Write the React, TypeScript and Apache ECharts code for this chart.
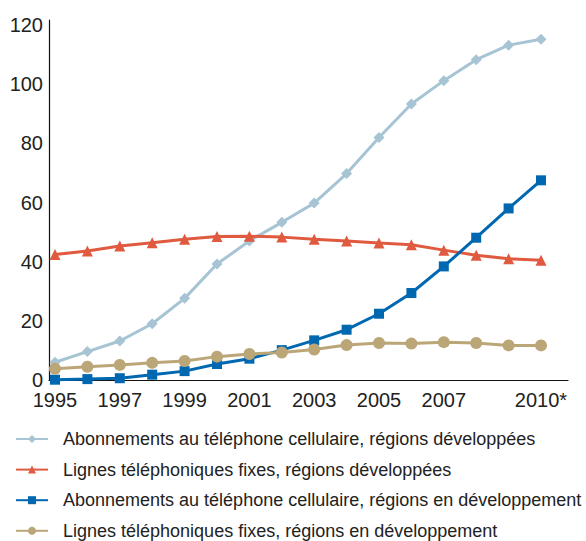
import React, { useEffect, useRef } from "react";
import * as echarts from "echarts";

const years = [1995, 1996, 1997, 1998, 1999, 2000, 2001, 2002, 2003, 2004, 2005, 2006, 2007, 2008, 2009, 2010];
const xTickValues = [1995, 1997, 1999, 2001, 2003, 2005, 2007, 2010];
const yTickValues = [0, 20, 40, 60, 80, 100, 120];

const cellDeveloped = [6.0, 9.6, 13.2, 19.0, 27.6, 39.2, 47.0, 53.3, 59.8, 69.8, 82.0, 93.3, 101.2, 108.3, 113.2, 115.2];
const fixedDeveloped = [42.4, 43.6, 45.3, 46.4, 47.6, 48.5, 48.6, 48.3, 47.6, 47.0, 46.3, 45.7, 43.9, 42.2, 41.0, 40.5];
const cellDeveloping = [0.1, 0.3, 0.6, 1.8, 3.0, 5.4, 7.2, 10.1, 13.4, 17.0, 22.4, 29.4, 38.4, 48.1, 58.0, 67.5];
const fixedDeveloping = [3.8, 4.5, 5.1, 5.8, 6.4, 7.9, 8.8, 9.3, 10.3, 11.8, 12.5, 12.3, 12.8, 12.5, 11.7, 11.7];

const seriesNames = [
  "Abonnements au téléphone cellulaire, régions développées",
  "Lignes téléphoniques fixes, régions développées",
  "Abonnements au téléphone cellulaire, régions en développement",
  "Lignes téléphoniques fixes, régions en développement",
];
const seriesColors = ["#a6c4d3", "#e05a40", "#0067b1", "#bba678"];
const seriesSymbols = ["diamond", "triangle", "rect", "circle"];
const symbolSizes = [11, 11, 10, 12];
const seriesValues = [cellDeveloped, fixedDeveloped, cellDeveloping, fixedDeveloping];

const FONT = "'Liberation Sans', Arial, sans-serif";

export default function App() {
  const ref = useRef<HTMLDivElement>(null);
  useEffect(() => {
    if (!ref.current) return;
    const chart = echarts.init(ref.current, null, { renderer: "svg" });
    chart.setOption({
      animation: false,
      textStyle: { fontFamily: FONT },
      grid: { left: 49, right: 18, top: 20, bottom: 161, containLabel: false },
      legend: {
        orient: "vertical",
        left: 15,
        top: 430,
        height: 140,
        padding: 0,
        itemWidth: 32,
        itemHeight: 10,
        itemGap: 12.6,
        textStyle: { fontSize: 18, lineHeight: 18, color: "#222", fontFamily: FONT, padding: [0, 0, 0, 10] },
        data: seriesNames,
      },
      xAxis: {
        type: "value",
        min: 1994.815,
        max: 2010.833,
        axisLine: { show: true, lineStyle: { color: "#111", width: 1.2 } },
        axisTick: { show: false },
        splitLine: { show: false },
        axisLabel: {
          customValues: xTickValues,
          formatter: (v: number) => (v === 2010 ? "2010*" : String(v)),
          fontSize: 20,
          color: "#222",
          margin: 10,
          fontFamily: FONT,
        },
      },
      yAxis: {
        type: "value",
        min: 0,
        max: 121.7,
        axisLine: { show: true, lineStyle: { color: "#111", width: 1.2 } },
        axisTick: { show: false },
        splitLine: { show: false },
        axisLabel: {
          customValues: yTickValues,
          fontSize: 20,
          color: "#222",
          margin: 6,
          fontFamily: FONT,
        },
      },
      series: seriesNames.map((name, i) => ({
        name,
        type: "line",
        data: years.map((y, j) => [y, seriesValues[i][j]]),
        symbol: seriesSymbols[i],
        symbolSize: symbolSizes[i],
        showSymbol: true,
        itemStyle: { color: seriesColors[i] },
        lineStyle: { color: seriesColors[i], width: 3 },
        clip: false,
        z: 2 + i,
      })),
    });
    return () => chart.dispose();
  }, []);
  return <div ref={ref} style={{ width: 586, height: 541, position: "absolute", left: 0, top: 0 }} />;
}
